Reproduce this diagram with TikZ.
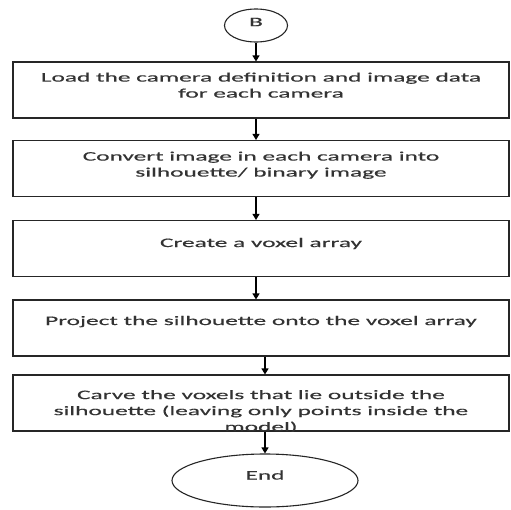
\documentclass[tikz,border=0pt]{standalone}
\usepackage{fontspec}
\setmainfont[FakeStretch=1.95,FakeBold=0.4]{Carlito}
\usetikzlibrary{arrows.meta,shapes.geometric}
\begin{document}
\begin{tikzpicture}[x=1pt,y=-1pt,
  line width=1.1pt,
  box/.style={draw=black!85, rectangle, minimum width=496pt, minimum height=56pt, inner sep=0pt},
  txt/.style={align=center, inner sep=0pt, font=\fontsize{13}{16}\selectfont, text=black!80},
  term/.style={draw=black!85, ellipse, inner sep=0pt, font=\fontsize{13}{16}\selectfont, text=black!80},
  flow/.style={draw=black, line width=1.1pt, -{Triangle[width=7pt,length=6pt]}}]
\useasboundingbox (0,0) rectangle (511,509);
\fill[white] (0,0) rectangle (511,509);

\node[term, minimum width=63pt, minimum height=33pt, text depth=7pt] (B) at (256,25.5) {B};

\node[box] (b1) at (261,90) {};
\node[box] (b2) at (261,168.5) {};
\node[box] (b3) at (261,248.5) {};
\node[box] (b4) at (261,328) {};
\node[box] (b5) at (261,403) {};

\node[term, minimum width=186pt, minimum height=53pt, text depth=11pt] (E) at (265,480.5) {End};

\node[txt, anchor=north] (t1) at (261,72) {Load the camera definition and image data\\for each camera};
\node[txt, anchor=north] (t2) at (261,151) {Convert image in each camera into\\silhouette/ binary image};
\node[txt, anchor=base] (t3) at (261,247) {Create a voxel array};
\node[txt, anchor=base] (t4) at (261,325) {Project the silhouette onto the voxel array};
\begin{scope}
  \clip (0,370) rectangle (511,431.5);
  \node[txt, anchor=north] (t5) at (261,389.5) {Carve the voxels that lie outside the\\silhouette (leaving only points inside the\\model)};
\end{scope}

\draw[flow] (B.south) -- (B.south |- b1.north);
\draw[flow] (b1.south -| B.south) -- (b2.north -| B.south);
\draw[flow] (b2.south -| B.south) -- (b3.north -| B.south);
\draw[flow] (b3.south -| B.south) -- (b4.north -| B.south);
\draw[flow] (b4.south -| E.north) -- (b5.north -| E.north);
\draw[flow] (b5.south -| E.north) -- (E.north);
\end{tikzpicture}
\end{document}
